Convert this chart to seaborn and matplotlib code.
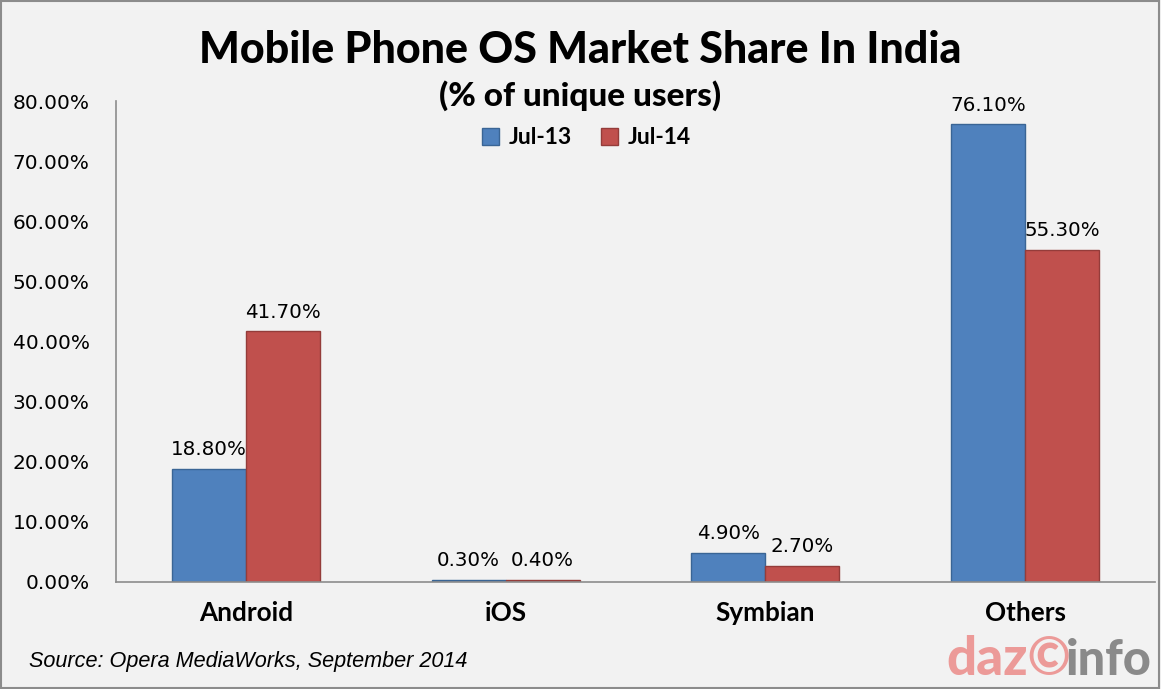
import pandas as pd
import matplotlib.pyplot as plt
import seaborn as sns
from matplotlib.patches import Patch

# market share (% of unique users)
categories = ['Android', 'iOS', 'Symbian', 'Others']
periods = ['Jul-13', 'Jul-14']
jul13 = [18.8, 0.3, 4.9, 76.1]
jul14 = [41.7, 0.4, 2.7, 55.3]
y_ticks = [0, 10, 20, 30, 40, 50, 60, 70, 80]

df = pd.DataFrame({
    'OS': categories * 2,
    'Period': [periods[0]] * 4 + [periods[1]] * 4,
    'Share': jul13 + jul14,
})

sns.set_style('white')
plt.rcParams['font.family'] = ['DejaVu Sans']
plt.rcParams['text.color'] = 'black'
plt.rcParams['xtick.labelcolor'] = 'black'
plt.rcParams['ytick.labelcolor'] = 'black'

bg = '#F2F2F2'
W, H = 1161, 689
fig = plt.figure(figsize=(11.61, 6.89), dpi=100, facecolor=bg)
ax = fig.add_axes([0.0999, 0.1553, 0.8949, 0.6981])
ax.set_facecolor(bg)

palette = {'Jul-13': '#4F81BD', 'Jul-14': '#C0504D'}
edges = {'Jul-13': '#3A6595', 'Jul-14': '#943C3A'}
sns.barplot(data=df, x='OS', y='Share', hue='Period', hue_order=periods,
            palette=palette, width=0.57, ax=ax, legend=False, saturation=1)

for cont, p in zip(ax.containers, periods):
    for bar in cont:
        bar.set_edgecolor(edges[p])
        bar.set_linewidth(1)
    ax.bar_label(cont, labels=[f'{v:.2f}%' for v in cont.datavalues],
                 padding=7, fontsize=14.3, color='black')

ax.set_ylim(0, 80)
ax.set_xlim(-0.5, 3.5)
ax.set_yticks(y_ticks)
ax.set_yticklabels([f'{t:.2f}%' for t in y_ticks], fontsize=14.5)
ax.set_xticks([0, 1, 2, 3])
ax.set_xticklabels(categories, fontsize=18.8, fontweight='bold', family='Lato')
ax.set_xticks([-0.5, 0.5, 1.5, 2.5, 3.5], minor=True)
ax.tick_params(axis='x', which='major', length=0, pad=14)
ax.tick_params(axis='x', which='minor', length=7, color='#8C8C8C', direction='out', width=1.2)
ax.tick_params(axis='y', length=7, color='#8C8C8C', direction='out', width=1.2, pad=12)
for s in ['top', 'right']:
    ax.spines[s].set_visible(False)
for s in ['left', 'bottom']:
    ax.spines[s].set_color('#8C8C8C')
    ax.spines[s].set_linewidth(1.2)
ax.set_xlabel('')
ax.set_ylabel('')

fig.text(0.5, 0.928, 'Mobile Phone OS Market Share In India', ha='center', va='center',
         fontsize=31, fontweight='black', family='Lato', color='black')
fig.text(0.5, 0.862, '(% of unique users)', ha='center', va='center',
         fontsize=24, fontweight='black', family='Lato', color='black')

# legend
handles = [Patch(facecolor=palette[p], edgecolor=edges[p], label=p) for p in periods]
fig.legend(handles=handles, loc='center', bbox_to_anchor=(0.505, 0.8), ncol=2,
           frameon=False, prop={'family': 'Lato', 'weight': 'bold', 'size': 16.5},
           handlelength=0.75, handleheight=0.75, handletextpad=0.4, columnspacing=1.3)

fig.text(0.025, 0.04, 'Source: Opera MediaWorks, September 2014', ha='left', va='center',
         fontsize=15.6, style='italic', family='Liberation Sans')

# watermark
fig.text(946 / W, 0.02, 'daz\u00a9', ha='left', va='baseline', fontsize=38, fontweight='black',
         family='Lato', color='#EC9A98')
fig.text(1066 / W, 0.02, 'info', ha='left', va='baseline', fontsize=35, fontweight='black',
         family='Lato', color='#8A8A8A')

# thin frame around the figure
fig.add_artist(plt.Rectangle((0.001, 0.002), 0.997, 0.996, transform=fig.transFigure,
                             fill=False, edgecolor='#8C8C8C', linewidth=1.5))

fig.savefig('out.png', dpi=100, facecolor=bg)
